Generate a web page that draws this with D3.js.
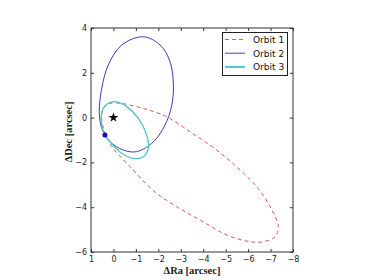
<!DOCTYPE html>
<html lang="en">
<head>
<meta charset="utf-8" />
<title>Orbits</title>
<script src="https://d3js.org/d3.v7.min.js"></script>
<style>
  body { margin: 0; background: #fff; }
  svg { display: block; }
</style>
</head>
<body>
<script>
    var w = 374;
    var h = 280;

    // points, [ΔRa, ΔDec] in arcsec
    var orbit1 = [
        [0.45, 0.40], [0.20, 0.62], [-0.30, 0.64], [-1.18, 0.45], [-1.63, 0.32],
        [-2.37, 0.04], [-3.41, -0.63], [-4.60, -1.45], [-5.64, -2.34], [-6.38, -3.08],
        [-6.98, -3.98], [-7.35, -4.87], [-7.20, -5.32], [-6.68, -5.54], [-6.09, -5.54],
        [-5.05, -5.24], [-3.86, -4.57], [-2.82, -3.98], [-1.80, -3.28], [-0.74, -2.19],
        [0.01, -1.37], [0.35, -0.75], [0.52, -0.10]
    ];
    var orbit2 = [
        [-1.33, 3.61], [-2.08, 3.24], [-2.52, 2.50], [-2.67, 1.46], [-2.60, 0.56],
        [-2.30, -0.33], [-1.78, -1.08], [-1.04, -1.52], [-0.44, -1.45], [0.15, -1.08],
        [0.52, -0.48], [0.63, 0.26], [0.52, 1.31], [0.23, 2.35], [-0.37, 3.24]
    ];
    var orbit3 = [
        [-0.07, 0.71], [-0.59, 0.49], [-1.11, -0.03], [-1.48, -0.78], [-1.55, -1.37],
        [-1.33, -1.75], [-0.89, -1.82], [-0.37, -1.59], [0.15, -1.08], [0.38, -0.78],
        [0.55, -0.18], [0.45, 0.42], [0.23, 0.64]
    ];
    var star = [0, 0];
    var current = [0.38, -0.78];

    var xTicks = [1, 0, -1, -2, -3, -4, -5, -6, -7, -8];
    var yTicks = [4, 2, 0, -2, -4, -6];
    var names = ["Orbit 1", "Orbit 2", "Orbit 3"];

    var x = d3.scaleLinear().domain([1, -8]).range([91, 293]);
    var y = d3.scaleLinear().domain([4, -6]).range([28, 252]);

    var svg = d3.select("body").append("svg").attr("width", w).attr("height", h);

    var line = d3.line()
        .x(function (d) { return x(d[0]); })
        .y(function (d) { return y(d[1]); })
        .curve(d3.curveCatmullRomClosed);

    var styles = [
        { color: "#dc5a5a", width: 1, dash: "4,3" },
        { color: "#3d3db4", width: 1, dash: null },
        { color: "#4cc6c6", width: 1.3, dash: null }
    ];

    var plot = svg.append("g");
    [orbit1, orbit2, orbit3].forEach(function (o, i) {
        plot.append("path")
            .attr("d", line(o))
            .attr("fill", "none")
            .attr("stroke", styles[i].color)
            .attr("stroke-width", styles[i].width)
            .attr("stroke-dasharray", styles[i].dash);
    });

    // star at the origin
    plot.append("path")
        .attr("d", d3.symbol().type(d3.symbolStar).size(30)())
        .attr("transform", "translate(" + x(star[0]) + "," + y(star[1]) + ")")
        .attr("fill", "#000");

    plot.append("circle")
        .attr("cx", x(current[0]))
        .attr("cy", y(current[1]))
        .attr("r", 2.5)
        .attr("fill", "#0a0ac8");

    // axes, ticks inward on all four sides
    var axisColor = "#333";
    var fmt = function (d) { return d < 0 ? "\u2212" + Math.abs(d) : String(d); };

    svg.append("g").attr("transform", "translate(0,252)")
        .call(d3.axisBottom(x).tickValues(xTicks).tickSizeInner(-3).tickSizeOuter(0).tickPadding(4).tickFormat(fmt));
    svg.append("g").attr("transform", "translate(0,28)")
        .call(d3.axisTop(x).tickValues(xTicks).tickSizeInner(-3).tickSizeOuter(0).tickFormat(""));
    svg.append("g").attr("transform", "translate(91,0)")
        .call(d3.axisLeft(y).tickValues(yTicks).tickSizeInner(-3).tickSizeOuter(0).tickPadding(4).tickFormat(fmt));
    svg.append("g").attr("transform", "translate(293,0)")
        .call(d3.axisRight(y).tickValues(yTicks).tickSizeInner(-3).tickSizeOuter(0).tickFormat(""));

    svg.selectAll(".tick text")
        .attr("font-family", "DejaVu Sans, sans-serif")
        .attr("font-size", "8px")
        .attr("fill", "#222");
    svg.selectAll(".tick line").attr("stroke", axisColor);
    svg.selectAll(".domain").remove();

    svg.append("rect")
        .attr("x", 91).attr("y", 28)
        .attr("width", 202).attr("height", 224)
        .attr("fill", "none")
        .attr("stroke", axisColor)
        .attr("stroke-width", 1);

    // axis labels
    svg.append("text")
        .attr("x", 192).attr("y", 274)
        .attr("text-anchor", "middle")
        .attr("font-family", "Liberation Serif, serif")
        .attr("font-size", "10.5px")
        .attr("font-weight", "bold")
        .attr("fill", "#222")
        .text("\u0394Ra [arcsec]");
    svg.append("text")
        .attr("transform", "translate(72,132) rotate(-90)")
        .attr("text-anchor", "middle")
        .attr("font-family", "Liberation Serif, serif")
        .attr("font-size", "10.5px")
        .attr("font-weight", "bold")
        .attr("fill", "#222")
        .text("\u0394Dec [arcsec]");

    // legend
    var lg = svg.append("g");
    lg.append("rect")
        .attr("x", 222.5).attr("y", 32.5)
        .attr("width", 65).attr("height", 43)
        .attr("fill", "#fff")
        .attr("stroke", "#222")
        .attr("stroke-width", 1);
    names.forEach(function (n, i) {
        var ly = 39.5 + i * 13.7;
        lg.append("line")
            .attr("x1", 225).attr("x2", 245)
            .attr("y1", ly).attr("y2", ly)
            .attr("stroke", styles[i].color)
            .attr("stroke-width", i === 2 ? 2 : 1)
            .attr("stroke-dasharray", styles[i].dash);
        lg.append("text")
            .attr("x", 253).attr("y", ly + 3.3)
            .attr("font-family", "DejaVu Sans, sans-serif")
            .attr("font-size", "9px")
            .attr("fill", "#111")
            .text(n);
    });
</script>
</body>
</html>
